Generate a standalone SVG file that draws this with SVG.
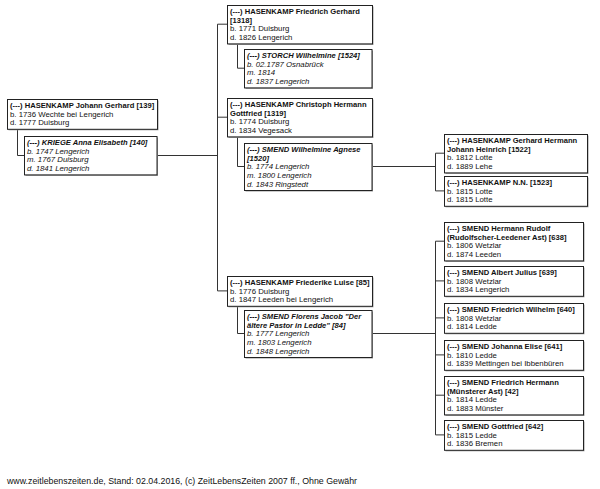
<svg xmlns="http://www.w3.org/2000/svg" width="600" height="489" viewBox="0 0 600 489">
<style>
text{font-family:"Liberation Sans",Arial,sans-serif;font-size:7.8px;fill:#111}
.b{font-weight:bold;font-size:7.6px}
.i{font-style:italic}
.box{fill:#fff;stroke:#222;stroke-width:1}
.sh{fill:#9a9a9a}
.c{fill:none;stroke:#333;stroke-width:1}
</style>
<rect width="600" height="489" fill="#fff"/>
<g id="connectors">
<path class="c" d="M17.5 129.4V155.5H24"/>
<path class="c" d="M157 155.5H217.5"/>
<path class="c" d="M217.5 24.2V290.9"/>
<path class="c" d="M217.5 24.2H227M217.5 117.2H227M217.5 290.9H227"/>
<path class="c" d="M237.5 43.4V68.2H244"/>
<path class="c" d="M237.5 136.4V166.5H244"/>
<path class="c" d="M237.5 305.8V333.5H244"/>
<path class="c" d="M372 166.5H435.5"/>
<path class="c" d="M435.5 153.2V190.9M435.5 153.2H444M435.5 190.9H444"/>
<path class="c" d="M372 333.5H435.5"/>
<path class="c" d="M435.5 241.2V434.9M435.5 241.2H444M435.5 280.9H444M435.5 317.9H444M435.5 354.9H444M435.5 395.2H444M435.5 434.9H444"/>
</g>
<g id="n139">
<rect class="sh" x="8.5" y="100.5" width="150" height="29.8"/>
<rect class="box" x="7.5" y="99.5" width="150" height="29.8"/>
<text x="10" y="108" class="b">(---) HASENKAMP Johann Gerhard [139]</text>
<text x="10" y="116.7">b. 1736 Wechte bei Lengerich</text>
<text x="10" y="125.4">d. 1777 Duisburg</text>
</g>
<g id="n140">
<rect class="sh" x="25.5" y="137.5" width="132.5" height="38.4"/>
<rect class="box" x="24.5" y="136.5" width="132.5" height="38.4"/>
<text x="27" y="145" class="b i">(---) KRIEGE Anna Elisabeth [140]</text>
<text x="27" y="153.7" class="i">b. 1747 Lengerich</text>
<text x="27" y="162.4" class="i">m. 1767 Duisburg</text>
<text x="27" y="171.1" class="i">d. 1841 Lengerich</text>
</g>
<g id="n1318">
<rect class="sh" x="228.5" y="6.5" width="145" height="38.4"/>
<rect class="box" x="227.5" y="5.5" width="145" height="38.4"/>
<text x="230" y="14" class="b">(---) HASENKAMP Friedrich Gerhard</text>
<text x="230" y="22.7" class="b">[1318]</text>
<text x="230" y="31.4">b. 1771 Duisburg</text>
<text x="230" y="40.1">d. 1826 Lengerich</text>
</g>
<g id="n1524">
<rect class="sh" x="245.5" y="50.5" width="127.5" height="38.4"/>
<rect class="box" x="244.5" y="49.5" width="127.5" height="38.4"/>
<text x="247" y="58" class="b i">(---) STORCH Wilhelmine [1524]</text>
<text x="247" y="66.7" class="i">b. 02.1787 Osnabrück</text>
<text x="247" y="75.4" class="i">m. 1814</text>
<text x="247" y="84.1" class="i">d. 1837 Lengerich</text>
</g>
<g id="n1319">
<rect class="sh" x="228.5" y="99.5" width="145" height="38.4"/>
<rect class="box" x="227.5" y="98.5" width="145" height="38.4"/>
<text x="230" y="107" class="b">(---) HASENKAMP Christoph Hermann</text>
<text x="230" y="115.7" class="b">Gottfried [1319]</text>
<text x="230" y="124.4">b. 1774 Duisburg</text>
<text x="230" y="133.1">d. 1834 Vegesack</text>
</g>
<g id="n1520">
<rect class="sh" x="245.5" y="144.5" width="127.5" height="47"/>
<rect class="box" x="244.5" y="143.5" width="127.5" height="47"/>
<text x="247" y="152" class="b i">(---) SMEND Wilhelmine Agnese</text>
<text x="247" y="160.7" class="b i">[1520]</text>
<text x="247" y="169.4" class="i">b. 1774 Lengerich</text>
<text x="247" y="178.1" class="i">m. 1800 Lengerich</text>
<text x="247" y="186.8" class="i">d. 1843 Ringstedt</text>
</g>
<g id="n85">
<rect class="sh" x="228.5" y="277.5" width="145" height="29.8"/>
<rect class="box" x="227.5" y="276.5" width="145" height="29.8"/>
<text x="230" y="285" class="b">(---) HASENKAMP Friederike Luise [85]</text>
<text x="230" y="293.7">b. 1776 Duisburg</text>
<text x="230" y="302.4">d. 1847 Leeden bei Lengerich</text>
</g>
<g id="n84">
<rect class="sh" x="245.5" y="311.5" width="127.5" height="47"/>
<rect class="box" x="244.5" y="310.5" width="127.5" height="47"/>
<text x="247" y="319" class="b i">(---) SMEND Florens Jacob "Der</text>
<text x="247" y="327.7" class="b i">ältere Pastor in Ledde" [84]</text>
<text x="247" y="336.4" class="i">b. 1777 Lengerich</text>
<text x="247" y="345.1" class="i">m. 1803 Lengerich</text>
<text x="247" y="353.8" class="i">d. 1848 Lengerich</text>
</g>
<g id="n1522">
<rect class="sh" x="445.5" y="135.5" width="143" height="38.4"/>
<rect class="box" x="444.5" y="134.5" width="143" height="38.4"/>
<text x="447" y="143" class="b">(---) HASENKAMP Gerhard Hermann</text>
<text x="447" y="151.7" class="b">Johann Heinrich [1522]</text>
<text x="447" y="160.4">b. 1812 Lotte</text>
<text x="447" y="169.1">d. 1889 Lehe</text>
</g>
<g id="n1523">
<rect class="sh" x="445.5" y="177.5" width="143" height="29.8"/>
<rect class="box" x="444.5" y="176.5" width="143" height="29.8"/>
<text x="447" y="185" class="b">(---) HASENKAMP N.N. [1523]</text>
<text x="447" y="193.7">b. 1815 Lotte</text>
<text x="447" y="202.4">d. 1815 Lotte</text>
</g>
<g id="n638">
<rect class="sh" x="445.5" y="223.5" width="139" height="38.4"/>
<rect class="box" x="444.5" y="222.5" width="139" height="38.4"/>
<text x="447" y="231" class="b">(---) SMEND Hermann Rudolf</text>
<text x="447" y="239.7" class="b">(Rudolfscher-Leedener Ast) [638]</text>
<text x="447" y="248.4">b. 1806 Wetzlar</text>
<text x="447" y="257.1">d. 1874 Leeden</text>
</g>
<g id="n639">
<rect class="sh" x="445.5" y="267.5" width="139" height="29.8"/>
<rect class="box" x="444.5" y="266.5" width="139" height="29.8"/>
<text x="447" y="275" class="b">(---) SMEND Albert Julius [639]</text>
<text x="447" y="283.7">b. 1808 Wetzlar</text>
<text x="447" y="292.4">d. 1834 Lengerich</text>
</g>
<g id="n640">
<rect class="sh" x="445.5" y="304.5" width="139" height="29.8"/>
<rect class="box" x="444.5" y="303.5" width="139" height="29.8"/>
<text x="447" y="312" class="b">(---) SMEND Friedrich Wilhelm [640]</text>
<text x="447" y="320.7">b. 1808 Wetzlar</text>
<text x="447" y="329.4">d. 1814 Ledde</text>
</g>
<g id="n641">
<rect class="sh" x="445.5" y="341.5" width="139" height="29.8"/>
<rect class="box" x="444.5" y="340.5" width="139" height="29.8"/>
<text x="447" y="349" class="b">(---) SMEND Johanna Elise [641]</text>
<text x="447" y="357.7">b. 1810 Ledde</text>
<text x="447" y="366.4">d. 1839 Mettingen bei Ibbenbüren</text>
</g>
<g id="n42">
<rect class="sh" x="445.5" y="377.5" width="139" height="38.4"/>
<rect class="box" x="444.5" y="376.5" width="139" height="38.4"/>
<text x="447" y="385" class="b">(---) SMEND Friedrich Hermann</text>
<text x="447" y="393.7" class="b">(Münsterer Ast) [42]</text>
<text x="447" y="402.4">b. 1814 Ledde</text>
<text x="447" y="411.1">d. 1883 Münster</text>
</g>
<g id="n642">
<rect class="sh" x="445.5" y="421.5" width="139" height="29.8"/>
<rect class="box" x="444.5" y="420.5" width="139" height="29.8"/>
<text x="447" y="429" class="b">(---) SMEND Gottfried [642]</text>
<text x="447" y="437.7">b. 1815 Ledde</text>
<text x="447" y="446.4">d. 1836 Bremen</text>
</g>
<text x="7" y="484" style="font-size:8.8px">www.zeitlebenszeiten.de, Stand: 02.04.2016, (c) ZeitLebensZeiten 2007 ff., Ohne Gewähr</text>
</svg>
